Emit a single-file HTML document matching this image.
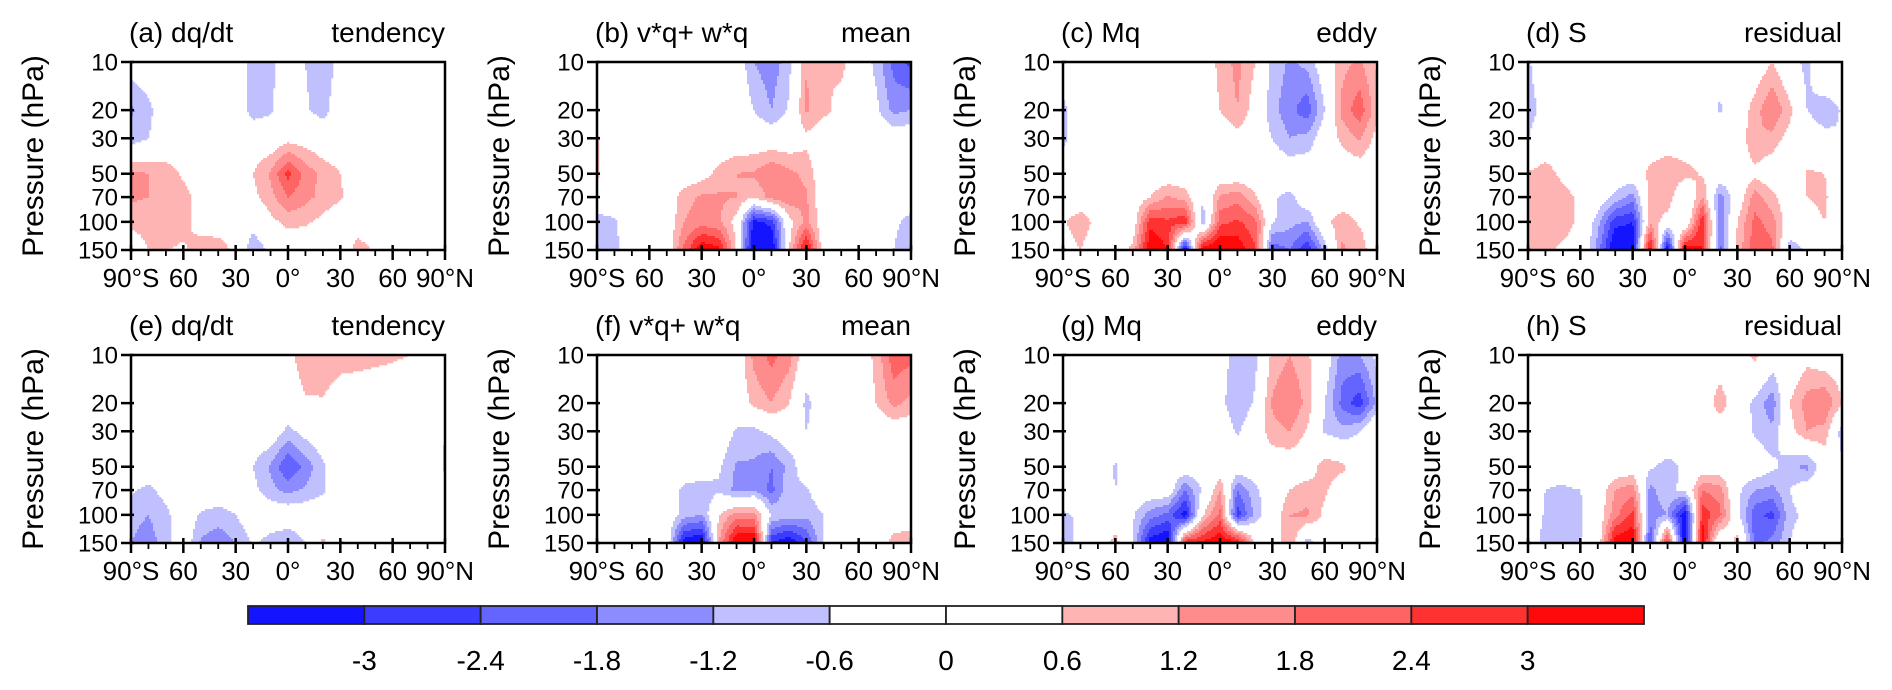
<!DOCTYPE html>
<html><head><meta charset="utf-8">
<style>
html,body{margin:0;padding:0;background:#fff;}
svg{display:block;font-family:"Liberation Sans",Arial,sans-serif;}
</style></head>
<body>
<svg id="fig" width="1892" height="690" viewBox="0 0 1892 690" xmlns="http://www.w3.org/2000/svg"></svg>
<script>
// ---- data ----
const lats=[-90,-80,-70,-60,-50,-40,-30,-20,-10,0,10,20,30,40,50,60,70,80,90];
const levels=[10,20,30,50,70,100,150];
const xTickLabels=["90°S","60","30","0°","30","60","90°N"];
const xTickLats=[-90,-60,-30,0,30,60,90];
const cbLabels=["-3","-2.4","-1.8","-1.2","-0.6","0","0.6","1.2","1.8","2.4","3"];
const cbThresholds=[-3,-2.4,-1.8,-1.2,-0.6,0,0.6,1.2,1.8,2.4,3];
const cbColors=["#1414ff","#3c3cff","#6464ff","#8c8cff","#c0c0ff","#ffffff","#ffffff","#ffb4b4","#ff8c8c","#ff6464","#ff3232","#ff0a0a"];
const panelTitles=["(a) dq/dt","(b) v*q+ w*q","(c) Mq","(d) S","(e) dq/dt","(f) v*q+ w*q","(g) Mq","(h) S"];
const panelTags=["tendency","mean","eddy","residual","tendency","mean","eddy","residual"];

const fieldA=[
[-0.2,0,0,0,0,0,0,-1.0,-0.8,0,-0.6,-1.1,-0.3,0,0,0,0,0,0],
[-1.3,-0.8,0,0,0,0,0,-0.9,-0.7,0,-0.5,-0.9,0,0,0,0,0,0,0],
[-1.0,-0.6,0,0,0,0,0,0,0,0.3,0.2,0,0,0,0,0,0,0,0],
[1.4,1.2,0.9,0.5,0,0,0,0.6,1.3,2.6,1.6,1.0,0.6,0,0,0,0,0,0],
[1.3,1.2,1.0,0.8,0.4,0,0,0.4,1.0,1.8,1.4,1.0,0.7,0,0,0,0,0,0],
[0.8,0.9,1.0,0.8,0.3,0,0,-0.3,0.4,0.8,0.7,0.4,0,0.2,0,0,0,0,0],
[0,0.6,0.6,0.5,0.9,1.1,0.3,-1.1,-0.4,0,0,0,0,0.9,0.5,0,0,0,0]];
const fieldB=[
[0,0,0,0,0,0,0,0,0,-1.2,-1.6,-0.8,1.2,0.6,0.8,0,-0.8,-2.0,-2.6],
[0,0,0,0,0,0,0,0,0,-0.6,-1.2,-0.5,1.3,0.8,0.3,0,-0.4,-1.4,-1.2],
[0.7,0,0,0,0,0,0,0,0,0,0,0,0.4,0,0,0,0,0,0],
[0.7,0,0,0,0,0,0.3,0.8,1.2,1.3,1.8,1.4,1.0,0,0,0,0,0,0],
[0.3,0,0,0,0,1.0,1.3,1.3,1.2,0.6,1.5,1.7,1.3,0,0,0,0,0,0],
[-1.0,-0.7,0,0,0,1.2,1.5,1.3,0.3,-3.2,-2.8,0.3,1.4,0,0,0,0,-0.4,-0.9],
[-1.2,-0.8,0,0,0,2.0,3.6,3.2,0.5,-4,-3.8,0.5,3.4,0,0,0,0,-0.6,-1.2]];
const fieldC=[
[0,0,0,0,0,0,0,0,0,0.8,1.4,0.6,-0.8,-1.3,-1.0,0,1.0,1.3,0.5],
[-0.8,0,0,0,0,0,0,0,0,0.6,1.2,0.2,-1.0,-1.6,-2.2,-0.6,1.4,2.2,0.8],
[-0.8,0,0,0,0,0.6,0,0,0,0,0.3,0,-0.6,-1.2,-1.0,0,0.8,1.3,0.3],
[0,0,0,0,0,0,0,0,0,0,0,0,0,0,0,-0.6,0,0,0],
[0,0,0,0,0,0.6,1.3,0.9,-0.4,1.3,1.6,0.7,-0.5,-0.8,0,0,0,0,0],
[0.5,1.0,0.3,0,0,2.8,2.5,2.9,-1.2,2.2,2.5,2.0,-0.5,-1.0,-1.2,0.4,1.0,0.5,0],
[0.2,0.6,0,0,0.8,3.6,3.0,-3.8,3.6,3.8,3.5,2.5,-2.2,-1.8,-3,-1,1.3,1.0,0]];
const fieldD=[
[-0.7,0,0,0,0,0,0,0,0,0,0,-0.3,0,0,0.6,-0.3,-0.8,0.6,0.3],
[-0.9,-0.3,0,0,0,0,0,0,0,0,0,-0.7,0,0.9,1.8,0.8,-0.6,-1.1,-0.5],
[-0.6,0,0,0,-0.5,0,-0.4,0,0,0,0,0,0,1.2,1.0,0.3,0,-0.3,-0.6],
[0.7,0.9,0.4,0,0,0,0,0.8,1.2,0.9,0.5,0,0,0.4,0,-0.6,0.7,0.6,0],
[0.9,1.1,0.9,0.4,0,-0.8,-1.5,0.9,1.1,-0.6,1.2,-1.5,0,1.5,0.8,0,0.6,0.7,0],
[0.8,1.0,0.8,0.5,-1.0,-2.8,-3.0,1.0,0.2,-0.5,3.0,-1.8,0.6,2.0,1.5,0,0.4,0.6,0],
[0.6,0.7,0.5,0.3,-1.5,-3.8,-3.5,3.6,-3.7,3.6,3.0,-2.0,0.8,2.2,2.0,-1,-0.5,0,0]];
const fieldE=[
[0,0,0,0,0,0,0,0,0,0.3,1.1,1.2,1.0,0.9,0.8,0.7,0.6,0.3,0],
[0,0,0,0,0,0,0,0,0,0,0.5,0.5,0,0,0,0,0,0,0],
[0,0,0,0,0,0,0,0,0,-0.8,-0.3,0,0,0,0,0,0,0,-0.6],
[0,0,0,0,0,0,0,-0.6,-1.3,-2.4,-1.6,-0.7,0,0,0,0,0,0,-0.7],
[-0.5,-0.8,-0.3,0,0,0,0,-0.4,-1.0,-1.4,-1.1,-0.7,0,0,0,0,0,0,-0.3],
[-1.0,-1.2,-0.8,0,-0.7,-0.9,-0.6,0,0,0,0,0,0,0,0,0,0,0,0],
[-1.2,-1.5,-0.9,0,-1.3,-1.6,-1.2,-0.5,-0.9,-1.2,-0.6,0.8,-0.7,0,0,0,0,0,-0.5]];
const fieldF=[
[0,0,0,0,0,0,0,0,0,1.4,2.0,1.5,0,0,-0.6,0,0.8,2.2,2.0],
[0,0,0,0,0,0,0,0,0,0.8,1.2,0.6,-0.8,0,0,0,0.6,1.4,1.0],
[0,0,0,0,0,0,0,0,-0.7,-0.8,-0.4,0,-0.6,0,0,0,0,0,0],
[0,0,0,0,0,0,0,-0.5,-1.3,-1.3,-1.8,-1.0,0,0,0,0,0,0,0],
[0,0,0,0,0,-0.8,-1.0,-0.7,-1.4,-1.2,-2.0,-0.8,-0.7,0,0,0,0,0,0],
[0,0,0,0,0,-0.9,-1.2,0.6,1.5,1.4,-0.6,-0.9,-1.0,-0.6,0,0,0,0,0],
[0,0,0,0,0,-3.5,-3.8,1.2,3.8,3.8,-3.0,-3.6,-2.5,-0.5,0,0,0,0.9,1.1]];
const fieldG=[
[0,0,0,0,0,0,0,0,0,0,-1.2,-0.8,0.8,1.2,0.7,0,-1.5,-1.2,-0.4],
[0,0,0,0,0,0,0,0,0,-0.4,-1.1,-0.5,1.3,1.8,1.0,-0.6,-2.0,-2.8,-1.0],
[0,0,0,0,0,0,0,0,0,0,-0.7,0,1.0,1.2,0.5,-0.7,-1.0,-0.6,0.6],
[0,0,0,-0.7,0,0,0,0,0,0,0,0,0,0,0,1.0,0.8,0,0],
[0,0,0,-0.6,0,0,0,-1.8,-0.5,1.2,-1.8,-0.8,0,0.6,1.0,0.7,0,0,0],
[-0.7,-0.5,0,0,-0.5,-1.5,-2.0,-3.4,0.5,2.0,-2.8,-1.0,0,1.2,1.3,0.4,0,0,0],
[-0.9,-0.4,0,0.9,-0.6,-3.4,-3.8,3.0,3.2,3.6,3.4,0.5,0,1.2,-1.0,0,0,0,0]];
const fieldH=[
[0,0,0,0,0,0,0,0,0,0,0,0,0,0.8,0,-0.3,0.3,0,0],
[0,0,0,0,0,0,0,0,0,0,0,1.0,0,-0.8,-1.6,0.6,1.5,1.8,0.6],
[0,0,0,0,0,0,0,0,0,0,0,0,0,-0.7,-1.1,0.3,1.2,1.0,-1.0],
[0,0,0,0.6,0,0,0,-0.5,-0.8,-0.5,0,0,0,0,-0.4,-1.0,-1.4,0,-0.4],
[0,-0.6,-0.8,-0.6,0,1.2,1.6,-1.4,-0.8,-0.4,1.8,1.5,-0.4,-1.2,-1.4,-0.6,0,0,0],
[0,-0.7,-1.0,-0.7,0,1.6,2.6,-1.5,-1.2,-3.6,2.8,2.0,-0.4,-2.2,-2.6,-0.8,-0.4,-0.6,-0.4],
[0,-0.9,-1.0,-0.6,0,3.5,3.6,-2.5,3.0,-3.8,3.5,-0.8,1.0,-2.0,-1.6,-0.6,0,0,0]];
const fields=[fieldA,fieldB,fieldC,fieldD,fieldE,fieldF,fieldG,fieldH];

// ---- layout ----
const NS="http://www.w3.org/2000/svg";
const svg=document.getElementById('fig');
const colX=[131,597,1063,1528], rowY=[62,355], PW=314, PH=188;
function mk(tag,attrs,parent){const e=document.createElementNS(NS,tag);for(const k in attrs)e.setAttribute(k,attrs[k]);(parent||svg).appendChild(e);return e;}
function xScale(left,lat){return left+(lat+90)/180*PW;}
function yScale(top,p){return top+Math.log(p/10)/Math.log(15)*PH;}
function binIndex(v){let k=0;for(const t of cbThresholds){if(v>t)k++;}return k;}
function sample(f,lat,p){
  let fi=(lat+90)/10; fi=Math.max(0,Math.min(17.9999,fi));
  const i=Math.floor(fi), tx=fi-i;
  const lp=Math.log(p);
  let j=0; while(j<levels.length-2 && lp>Math.log(levels[j+1])) j++;
  let ty=(lp-Math.log(levels[j]))/(Math.log(levels[j+1])-Math.log(levels[j]));
  ty=Math.max(0,Math.min(1,ty));
  const a=f[j][i]*(1-tx)+f[j][i+1]*tx, b=f[j+1][i]*(1-tx)+f[j+1][i+1]*tx;
  return a*(1-ty)+b*ty;
}

for(let n=0;n<8;n++){
  const left=colX[n%4], top=rowY[Math.floor(n/4)], f=fields[n];
  const g=mk('g',{});
  
  
  const fg=mk('g',{},g);
  
  
  const step=2;
  for(let yy=0;yy<PH;yy+=step){
    const p=10*Math.pow(15,(yy+step/2)/PH);
    let runStart=0, runK=-1;
    const cells=[];
    for(let xx=0;xx<PW;xx+=step){
      const lat=-90+(xx+step/2)/PW*180;
      cells.push(binIndex(sample(f,lat,p)));
    }
    cells.push(-2);
    for(let c=0;c<cells.length;c++){
      if(cells[c]!==runK){
        if(runK>=0 && runK!==5 && runK!==6){
          const r=mk('rect',{x:left+runStart*step,y:top+yy,width:Math.min((c-runStart)*step,PW-runStart*step)+0.3,height:Math.min(step,PH-yy)+0.3,fill:cbColors[runK]},fg);
          
          
        }
        runStart=c; runK=cells[c];
      }
    }
  }
  const fr=mk('rect',{x:left,y:top,width:PW,height:PH,fill:'none',stroke:'#000','stroke-width':2.5},g);
  
  
  levels.forEach(lv=>{
    const y=yScale(top,lv);
    mk('line',{x1:left-10,x2:left+3,y1:y,y2:y,stroke:'#000','stroke-width':2.5},g);
    const t=mk('text',{x:left-13,y:y+8.5,'text-anchor':'end','font-size':24},g);
    t.textContent=lv;
    
    
  });
  for(let lat=-90;lat<=90;lat+=10){
    const x=xScale(left,lat), major=(lat%30===0);
    mk('line',{x1:x,x2:x,y1:top+PH-(major?5:0),y2:top+PH+(major?10:6),stroke:'#000','stroke-width':major?2.5:1.8},g);
  }
  xTickLats.forEach((lat,k)=>{
    const t=mk('text',{x:xScale(left,lat),y:top+PH+37,'text-anchor':'middle','font-size':26},g);
    t.textContent=xTickLabels[k];
    
    
  });
  const t1=mk('text',{x:left-2,y:top-20,'font-size':28},g);
  t1.textContent=panelTitles[n];
  
  
  const t2=mk('text',{x:left+PW,y:top-20,'text-anchor':'end','font-size':28},g);
  t2.textContent=panelTags[n];
  
  
  const yt=mk('text',{x:0,y:0,'text-anchor':'middle','font-size':30,transform:'translate('+(left-88)+','+(top+PH/2)+') rotate(-90)'},g);
  yt.textContent='Pressure (hPa)';
  
  
}

// ---- colorbar ----
const cb=mk('g',{});


const cbL=248, cbR=1644, cbT=606, cbH=18, bw=(cbR-cbL)/cbColors.length;
cbColors.forEach((c,k)=>{
  const r=mk('rect',{x:cbL+k*bw,y:cbT,width:bw,height:cbH,fill:c,stroke:'#222','stroke-width':1.8},cb);
  
  
});
cbLabels.forEach((s,k)=>{
  const t=mk('text',{x:cbL+(k+1)*bw,y:670,'text-anchor':'middle','font-size':28},cb);
  t.textContent=s;
  
  
});
</script>
</body></html>
